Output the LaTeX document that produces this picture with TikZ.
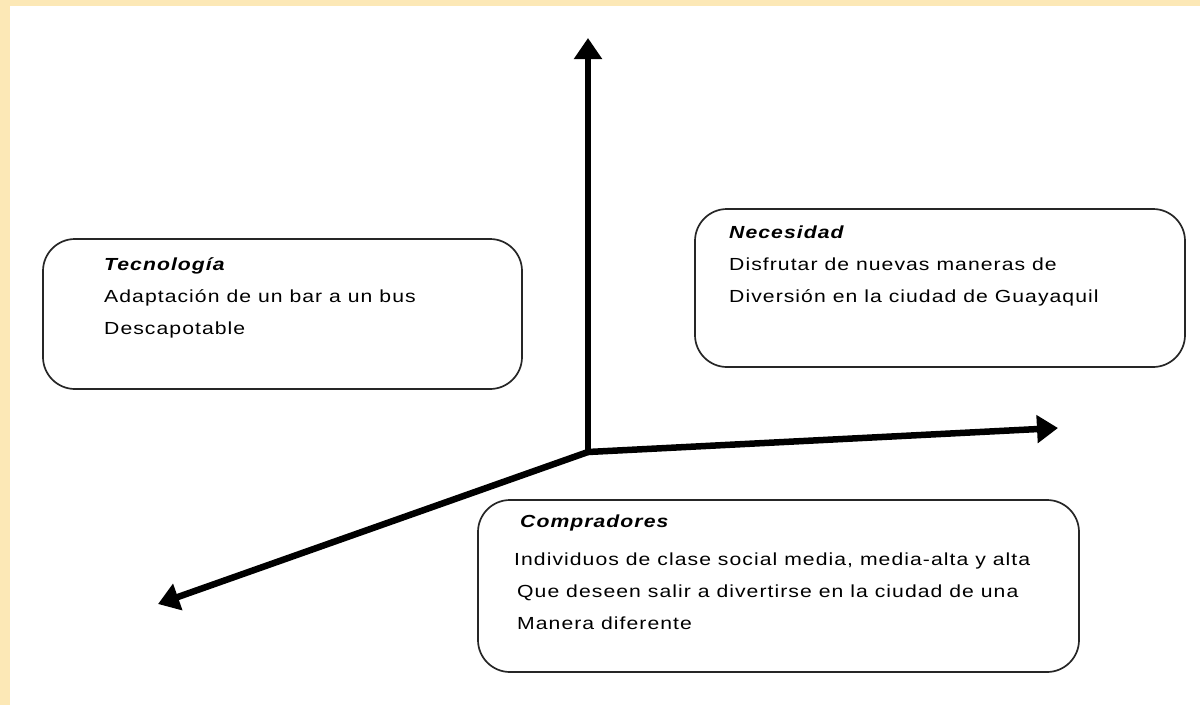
\documentclass[tikz,border=0pt]{standalone}
\usepackage{fontspec}
\newfontfamily\bodyf[FakeStretch=1.21,LetterSpace=6]{Liberation Sans}
\usetikzlibrary{arrows.meta}
\definecolor{frame}{RGB}{252,232,182}
\tikzset{
  axis/.style={line width=6.5pt,-{Triangle[length=21pt,width=27pt]}},
  card/.style={draw=black!85,line width=1.7pt,rounded corners=32pt,fill=white},
  txt/.style={anchor=base west,inner sep=0pt,font=\bodyf\fontsize{17.5}{20}\selectfont},
  ttl/.style={anchor=base west,inner sep=0pt,font=\bodyf\fontsize{17.5}{20}\selectfont\bfseries\itshape}
}
\begin{document}
\begin{tikzpicture}[x=1pt,y=-1pt]
\useasboundingbox (0,0) rectangle (1200,705);
\fill[white] (0,0) rectangle (1200,705);
\fill[frame] (0,0) rectangle (1200,6);
\fill[frame] (0,0) rectangle (10,705);
% boxes
\draw[card] (43,239) rectangle (522,389);
\node[inner sep=0pt] (tec) at (282.5,314) {};
\draw[card] (695,209) rectangle (1185,367);
\node[inner sep=0pt] (nec) at (940,288) {};
\draw[card] (478,500) rectangle (1079,672);
\node[inner sep=0pt] (com) at (778.5,586) {};
% texts
\node[ttl] (t1) at (104,270) {Tecnología};
\node[txt] (t2) at (104,302) {Adaptación de un bar a un bus};
\node[txt] (t3) at (104,334) {Descapotable};
\node[ttl] (n1) at (729,238) {Necesidad};
\node[txt] (n2) at (729,270) {Disfrutar de nuevas maneras de};
\node[txt] (n3) at (729,302) {Diversión en la ciudad de Guayaquil};
\node[ttl] (c1) at (520,527) {Compradores};
\node[txt] (c2) at (514,565) {Individuos de clase social media, media-alta y alta};
\node[txt] (c3) at (517,597) {Que deseen salir a divertirse en la ciudad de una};
\node[txt] (c4) at (517,629) {Manera diferente};
% axes
\coordinate (O) at (588,452);
\coordinate (U) at (588,38);
\coordinate (R) at (1058,428);
\coordinate (L) at (158,604);
\draw[axis] (O) -- (U);
\draw[axis] (O) -- (R);
\draw[axis] (O) -- (L);
\end{tikzpicture}
\end{document}
